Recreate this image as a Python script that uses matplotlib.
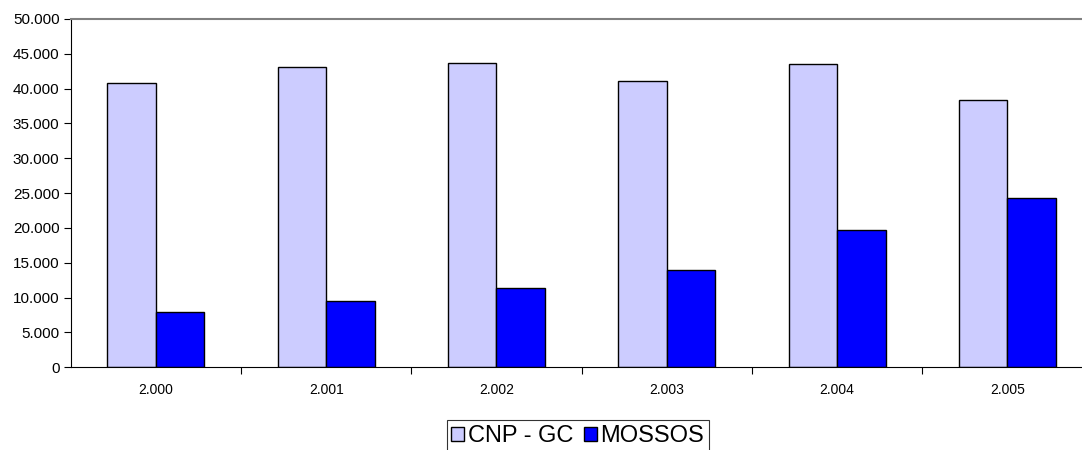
import numpy as np
import matplotlib
matplotlib.use('Agg')
import matplotlib.pyplot as plt
from matplotlib.ticker import FuncFormatter, MultipleLocator

plt.rcParams['font.family'] = ['Liberation Sans', 'DejaVu Sans']

years = ['2.000', '2.001', '2.002', '2.003', '2.004', '2.005']
cnp_gc = [40800, 43150, 43700, 41050, 43550, 38400]
mossos = [7900, 9500, 11400, 13950, 19700, 24300]

fig = plt.figure(figsize=(10.82, 4.5), dpi=100)
ax = fig.add_axes([0.0653, 0.1838, 0.9347, 0.774])

x = np.arange(len(years))
w = 0.285
ax.bar(x - w / 2, cnp_gc, w, color='#CCCCFF', edgecolor='black', linewidth=1.0, label='CNP - GC')
ax.bar(x + w / 2, mossos, w, color='#0000FF', edgecolor='black', linewidth=1.0, label='MOSSOS')

ax.set_ylim(0, 50000)
ax.set_xlim(-0.5, 5.438)
ax.yaxis.set_major_locator(MultipleLocator(5000))
ax.yaxis.set_major_formatter(FuncFormatter(lambda v, p: '{:,.0f}'.format(v).replace(',', '.')))

# category labels in the middle, ticks on the boundaries
ax.set_xticks(x)
ax.set_xticklabels(years)
ax.tick_params(axis='x', which='major', length=0, labelsize=10, pad=11)
ax.set_xticks(np.arange(0.5, 5.5, 1), minor=True)
ax.tick_params(axis='x', which='minor', length=5, width=0.8, color='black', direction='out')
ax.tick_params(axis='y', length=5, width=0.8, labelsize=11, pad=3, direction='out')

ax.spines['right'].set_visible(False)
ax.spines['top'].set_color('#808080')
ax.spines['top'].set_linewidth(1.5)
ax.spines['left'].set_color('black')
ax.spines['left'].set_linewidth(0.8)
ax.spines['bottom'].set_color('black')
ax.spines['bottom'].set_linewidth(0.8)

leg = fig.legend(loc='upper center', bbox_to_anchor=(0.534, 0.066), ncol=2,
                 fontsize=17, frameon=True, fancybox=False, edgecolor='black',
                 handlelength=0.55, handleheight=0.55, handletextpad=0.15,
                 columnspacing=0.45, borderpad=0.2, borderaxespad=0)
leg.get_frame().set_linewidth(0.8)

fig.savefig('out.png', dpi=100)
